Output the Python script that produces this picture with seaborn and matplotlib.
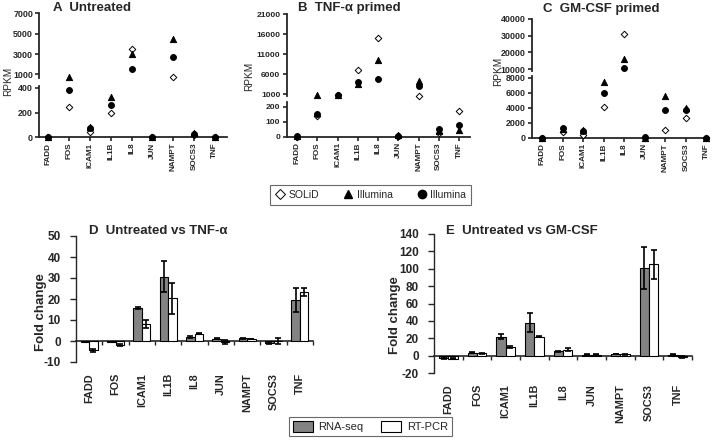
import numpy as np
import pandas as pd
import matplotlib.pyplot as plt
from matplotlib.lines import Line2D
from matplotlib.patches import Patch
import seaborn as sns

sns.set_style('ticks')
plt.rcParams['font.family'] = ['Liberation Sans', 'DejaVu Sans']

genes = ['FADD', 'FOS', 'ICAM1', 'IL1B', 'IL8', 'JUN', 'NAMPT', 'SOCS3', 'TNF']

# RPKM values (top row)
solid_untreated = [3, 244, 46, 193, 3516, 3, 700, 19, 2]
tri_untreated = [5, 730, 86, 327, 2970, 5, 4516, 38, 3]
circ_untreated = [5, 381, 72, 260, 1516, 5, 2677, 24, 3]

solid_tnf = [1, 138, 750, 7083, 15000, 5, 620, 22, 171]
tri_tnf = [2, 680, 750, 3583, 9583, 10, 4333, 40, 44]
circ_tnf = [2, 149, 750, 4083, 4917, 5, 3083, 49, 78]

solid_gm = [10, 700, 380, 4135, 30980, 10, 1034, 2562, 10]
tri_gm = [20, 1100, 1000, 7416, 16275, 20, 5528, 3910, 20]
circ_gm = [20, 1350, 900, 5977, 10784, 30, 3640, 3730, 20]

# fold change (bottom row)
rnaseq_tnf = [-0.5, -0.5, 15.7, 30.6, 1.9, 1.0, 1.2, -1.0, 19.6]
rnaseq_tnf_err = [0.1, 0.1, 0.5, 7.4, 0.4, 0.2, 0.2, 0.4, 5.8]
rtpcr_tnf = [-4.5, -2.0, 7.9, 20.3, 3.4, -0.3, 0.9, 0.0, 23.2]
rtpcr_tnf_err = [0.5, 0.4, 1.9, 7.5, 0.3, 0.9, 0.1, 1.2, 1.9]

rnaseq_gm = [-3.0, 3.5, 22.0, 38.0, 5.0, 1.0, 2.0, 100.5, 1.0]
rnaseq_gm_err = [1.0, 0.3, 2.8, 10.5, 0.3, 0.3, 0.3, 24.0, 0.3]
rtpcr_gm = [-3.5, 2.5, 10.0, 22.0, 7.0, 1.0, 1.5, 105.0, -1.5]
rtpcr_gm_err = [0.5, 0.8, 1.0, 0.5, 1.5, 0.7, 0.3, 17.0, 1.0]

W, H = 713, 442
fig = plt.figure(figsize=(W / 100, H / 100), dpi=100)


def rect(l, t, r, b):
    return [l / W, 1 - b / H, (r - l) / W, (b - t) / H]


def rpkm_panel(x0, x1, upper, lower, xlim, series, tick_fs):
    ax_up = fig.add_axes(rect(x0, upper[0], x1, upper[1]))
    ax_lo = fig.add_axes(rect(x0, lower[0], x1, lower[1]))
    lo_top = lower[3][1]
    styles = [dict(marker='D', color='white', s=11),
              dict(marker='^', color='black', s=20),
              dict(marker='o', color='black', s=18)]
    for vals, st in zip(series, styles):
        v = np.array(vals, dtype=float)
        v_lo = np.where(v <= lo_top, v, np.nan)
        v_up = np.where(v > lo_top, v, np.nan)
        sns.scatterplot(x=genes, y=v_lo, ax=ax_lo, edgecolor='black',
                        linewidth=0.7, clip_on=False, zorder=3, **st)
        sns.scatterplot(x=genes, y=v_up, ax=ax_up, edgecolor='black',
                        linewidth=0.7, clip_on=False, zorder=3, **st)
    for ax, (t, b, ticks, lim) in ((ax_up, upper), (ax_lo, lower)):
        ax.set_ylim(*lim)
        ax.set_yticks(ticks)
        ax.set_yticklabels([str(k) for k in ticks], fontsize=tick_fs, fontweight='bold')
        ax.set_xlim(*xlim)
        ax.set_ylabel('')
        for s in ['top', 'right']:
            ax.spines[s].set_visible(False)
        ax.spines['left'].set_linewidth(1.3)
        ax.tick_params(axis='y', length=3, width=1.2, pad=1.5)
        ax.patch.set_alpha(0)
    ax_up.spines['bottom'].set_visible(False)
    ax_up.set_xticks([])
    ax_lo.spines['bottom'].set_linewidth(1.3)
    ax_lo.set_xticks(range(len(genes)))
    ax_lo.set_xticklabels(genes, rotation=90, fontsize=5.9, fontweight='bold')
    ax_lo.tick_params(axis='x', length=3, width=1.2, pad=1)


rpkm_panel(39.3, 227, (13.3, 78, [1000, 3000, 5000, 7000], (650, 7000)),
           (86, 137.3, [0, 200, 400], (0, 414)), (-0.43, 8.58),
           [solid_untreated, tri_untreated, circ_untreated], 6.4)
rpkm_panel(286.7, 470, (14.3, 96, [1000, 6000, 11000, 16000, 21000], (550, 21000)),
           (102, 136.7, [0, 100, 200], (0, 230)), (-0.51, 8.54),
           [solid_tnf, tri_tnf, circ_tnf], 6.1)
rpkm_panel(531.7, 709, (18.7, 71, [10000, 20000, 30000, 40000], (9000, 40000)),
           (76, 137.7, [0, 2000, 4000, 6000, 8000], (0, 8230)), (-0.52, 8.13),
           [solid_gm, tri_gm, circ_gm], 6.4)

for x, y, txt in [(53, 8, 'A  Untreated'), (298, 8, 'B  TNF-\u03b1 primed'),
                  (543, 9, 'C  GM-CSF primed')]:
    fig.text(x / W, 1 - y / H, txt, fontsize=9.5, fontweight='bold', va='center')
for x, y in [(8, 81), (249, 76), (498, 71)]:
    fig.text(x / W, 1 - y / H, 'RPKM', fontsize=7.2, rotation=90, ha='center', va='center')

top_handles = [Line2D([], [], marker='D', ls='', mfc='white', mec='black', ms=5, mew=0.7),
               Line2D([], [], marker='^', ls='', color='black', ms=6),
               Line2D([], [], marker='o', ls='', color='black', ms=6)]
leg = fig.legend(top_handles, ['SOLiD', 'Illumina', 'Illumina'], loc='center',
                 bbox_to_anchor=(370.5 / W, 1 - 195 / H), ncol=3, fancybox=False,
                 edgecolor='#444444', fontsize=7.5, handletextpad=0.3,
                 columnspacing=2.3, borderpad=0.45, handlelength=1.0)
leg.get_frame().set_linewidth(0.8)


def fold_panel(box, ylim, yticks, seq, seq_err, pcr, pcr_err):
    ax = fig.add_axes(rect(*box))
    df = pd.DataFrame({'gene': genes * 2,
                       'method': ['RNA-seq'] * len(genes) + ['RT-PCR'] * len(genes),
                       'value': list(seq) + list(pcr)})
    sns.barplot(data=df, x='gene', y='value', hue='method',
                hue_order=['RNA-seq', 'RT-PCR'],
                palette={'RNA-seq': '#838383', 'RT-PCR': 'white'},
                edgecolor='black', linewidth=0.8, width=0.64, errorbar=None,
                legend=False, ax=ax)
    for cont, errs in zip(ax.containers, [seq_err, pcr_err]):
        for p in cont.patches:
            xc = p.get_x() + p.get_width() / 2
            i = int(round(xc))
            ax.errorbar(xc, p.get_y() + p.get_height(), yerr=errs[i], fmt='none',
                        ecolor='black', elinewidth=1.2, capsize=2, capthick=1.2, zorder=4)
    ax.set_xlim(-0.5, 8.5)
    ax.set_ylim(*ylim)
    ax.set_yticks(yticks)
    ax.set_yticklabels([str(k) for k in yticks], fontsize=8.5, fontweight='bold')
    ax.set_xlabel('')
    ax.set_ylabel('')
    for s in ['top', 'right', 'bottom']:
        ax.spines[s].set_visible(False)
    ax.spines['left'].set_linewidth(1.0)
    ax.tick_params(axis='y', length=4, width=1.0, pad=7)
    ax.set_xticks(range(len(genes)))
    ax.set_xticklabels(genes, rotation=90, fontsize=7.8, fontweight='bold')
    ax.tick_params(axis='x', length=0, pad=8)
    zero = ax.secondary_xaxis(0, transform=ax.transData)
    zero.set_xticks(np.arange(len(genes)) + 0.5)
    zero.set_xticklabels([])
    zero.tick_params(axis='x', length=3, width=1.0, direction='out')
    zero.spines['bottom'].set_linewidth(1.2)
    return ax


fold_panel((76, 236, 313, 362), (-10, 50), list(range(-10, 51, 10)),
           rnaseq_tnf, rnaseq_tnf_err, rtpcr_tnf, rtpcr_tnf_err)
fold_panel((434, 234, 692, 373), (-20, 140), list(range(-20, 141, 20)),
           rnaseq_gm, rnaseq_gm_err, rtpcr_gm, rtpcr_gm_err)

fig.text(89 / W, 1 - 231 / H, 'D  Untreated vs TNF-\u03b1', fontsize=9.5,
         fontweight='bold', va='center')
fig.text(446 / W, 1 - 231 / H, 'E  Untreated vs GM-CSF', fontsize=9.5,
         fontweight='bold', va='center')
for x, y in [(41, 312), (395, 315)]:
    fig.text(x / W, 1 - y / H, 'Fold change', fontsize=9.5, fontweight='bold',
             rotation=90, ha='center', va='center')

bot_handles = [Patch(facecolor='#838383', edgecolor='black', linewidth=0.8),
               Patch(facecolor='white', edgecolor='black', linewidth=0.8)]
leg2 = fig.legend(bot_handles, ['RNA-seq', 'RT-PCR'], loc='center',
                  bbox_to_anchor=(370.5 / W, 1 - 426.5 / H), ncol=2, fancybox=False,
                  edgecolor='#444444', fontsize=8, handletextpad=0.5,
                  columnspacing=1.6, borderpad=0.35, handlelength=1.8, handleheight=1.1)
leg2.get_frame().set_linewidth(0.8)

fig.savefig('out.png', dpi=100)
